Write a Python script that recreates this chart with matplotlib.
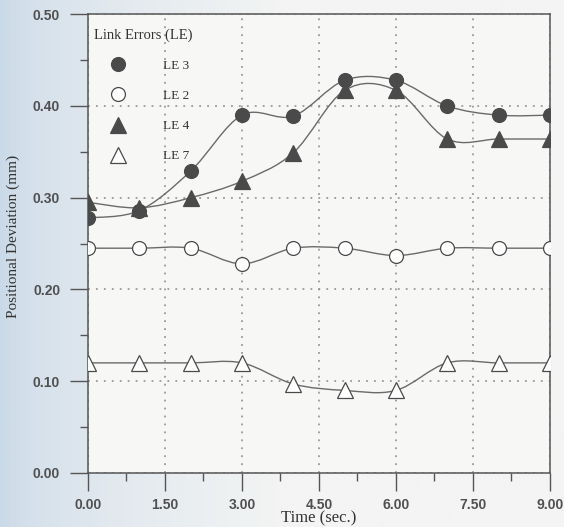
import numpy as np
import matplotlib
matplotlib.use('Agg')
from matplotlib import pyplot as plt
from matplotlib.path import Path
from matplotlib.patches import PathPatch
from matplotlib.lines import Line2D
from matplotlib.colors import LinearSegmentedColormap

# time samples (sec.)
time = [0, 1, 2, 3, 4, 5, 6, 7, 8, 9]

# positional deviation (mm) per link error
le3 = [0.278, 0.286, 0.329, 0.390, 0.389, 0.428, 0.428, 0.400, 0.390, 0.390]
le2 = [0.245, 0.245, 0.245, 0.228, 0.245, 0.245, 0.237, 0.245, 0.245, 0.245]
le4 = [0.295, 0.289, 0.300, 0.318, 0.349, 0.417, 0.417, 0.364, 0.364, 0.364]
le7 = [0.120, 0.120, 0.120, 0.120, 0.097, 0.090, 0.090, 0.120, 0.120, 0.120]

x_ticks = [0, 1.5, 3, 4.5, 6, 7.5, 9]
y_ticks = [0.0, 0.1, 0.2, 0.3, 0.4, 0.5]

LINE = '#6a6a6a'
MARK = '#4a4a4a'
TEXT = '#333333'


def smooth_path(xs, ys, t=1 / 6):
    """Catmull-Rom curve through the points, as cubic bezier path."""
    pts = np.column_stack([xs, ys]).astype(float)
    verts = [pts[0]]
    codes = [Path.MOVETO]
    for i in range(len(pts) - 1):
        p0 = pts[max(i - 1, 0)]
        p1 = pts[i]
        p2 = pts[i + 1]
        p3 = pts[min(i + 2, len(pts) - 1)]
        c1 = p1 + (p2 - p0) * t
        c2 = p2 - (p3 - p1) * t
        verts += [c1, c2, p2]
        codes += [Path.CURVE4] * 3
    return Path(verts, codes)


fig = plt.figure(figsize=(5.64, 5.27), dpi=100, facecolor='#f3f4f3')

# scanned page tint: bluish on the left edge
bg = fig.add_axes([0, 0, 1, 1], zorder=-5)
bg.axis('off')
paper = LinearSegmentedColormap.from_list('paper', ['#c9d9e8', '#dfe7ee', '#f3f4f3', '#f3f4f3'])
bg.imshow(np.linspace(0, 1, 256)[None, :] ** 0.6, cmap=paper, aspect='auto', extent=[0, 1, 0, 1])

ax = fig.add_axes([0.156, 0.1025, 0.819, 0.8705])
ax.set_facecolor('#f7f7f5')

series = [
    (le3, 'o', MARK, 'LE 3', 10),
    (le2, 'o', 'white', 'LE 2', 10),
    (le4, '^', MARK, 'LE 4', 11),
    (le7, '^', 'white', 'LE 7', 12),
]

for vals, marker, face, label, ms in series:
    ax.add_patch(PathPatch(smooth_path(time, vals), facecolor='none', edgecolor=LINE, lw=1.0, zorder=2))
    ax.plot(time, vals, linestyle='none', marker=marker, ms=ms, mfc=face, mec=MARK, mew=0.9, zorder=3)

ax.set_xlim(0, 9)
ax.set_ylim(0, 0.5)
ax.set_xticks(x_ticks)
ax.set_xticklabels([f'{v:.2f}' for v in x_ticks])
ax.set_yticks(y_ticks)
ax.set_yticklabels([f'{v:.2f}' for v in y_ticks])
ax.set_xticks(np.arange(0.75, 9, 1.5), minor=True)
ax.set_yticks(np.arange(0.05, 0.5, 0.1), minor=True)

for lab in ax.get_xticklabels() + ax.get_yticklabels():
    lab.set_fontfamily('Liberation Sans')
    lab.set_fontsize(10)
    lab.set_fontweight('bold')
    lab.set_color('#505050')

ax.tick_params(which='major', direction='out', length=13, width=1.0, color='#555555', pad=7)
ax.tick_params(which='minor', direction='out', length=6, width=1.0, color='#555555')
ax.tick_params(axis='x', which='major', pad=5)

ax.grid(True, which='major', color='#8a8a8a', linestyle=(0, (1.2, 4)), linewidth=1.1)
for s in ax.spines.values():
    s.set_color('#555555')
    s.set_linewidth(1.1)

ax.set_xlabel('Time (sec.)', family='Liberation Serif', fontsize=12, color=TEXT, labelpad=-1)
ax.set_ylabel('Positional Deviation (mm)', family='Liberation Serif', fontsize=11, color=TEXT)
ax.yaxis.set_label_coords(-0.147, 0.516)

handles = [Line2D([], [], linestyle='none', marker=m, ms=ms, mfc=f, mec=MARK, mew=0.9)
           for _, m, f, _, ms in series]
labels = [s[3] for s in series]
leg = ax.legend(handles, labels, loc='upper left', bbox_to_anchor=(-0.0065, 0.989), frameon=False,
                title='Link Errors (LE)', alignment='left',
                prop=dict(family='Liberation Serif', size=9.5),
                title_fontproperties=dict(family='Liberation Serif', size=10.5),
                labelspacing=1.35, handletextpad=1.6, handlelength=3.6,
                borderaxespad=0.5, borderpad=0.2)
for t in leg.get_texts():
    t.set_color(TEXT)
leg.get_title().set_color(TEXT)

fig.savefig('out.png', dpi=100, facecolor=fig.get_facecolor())
